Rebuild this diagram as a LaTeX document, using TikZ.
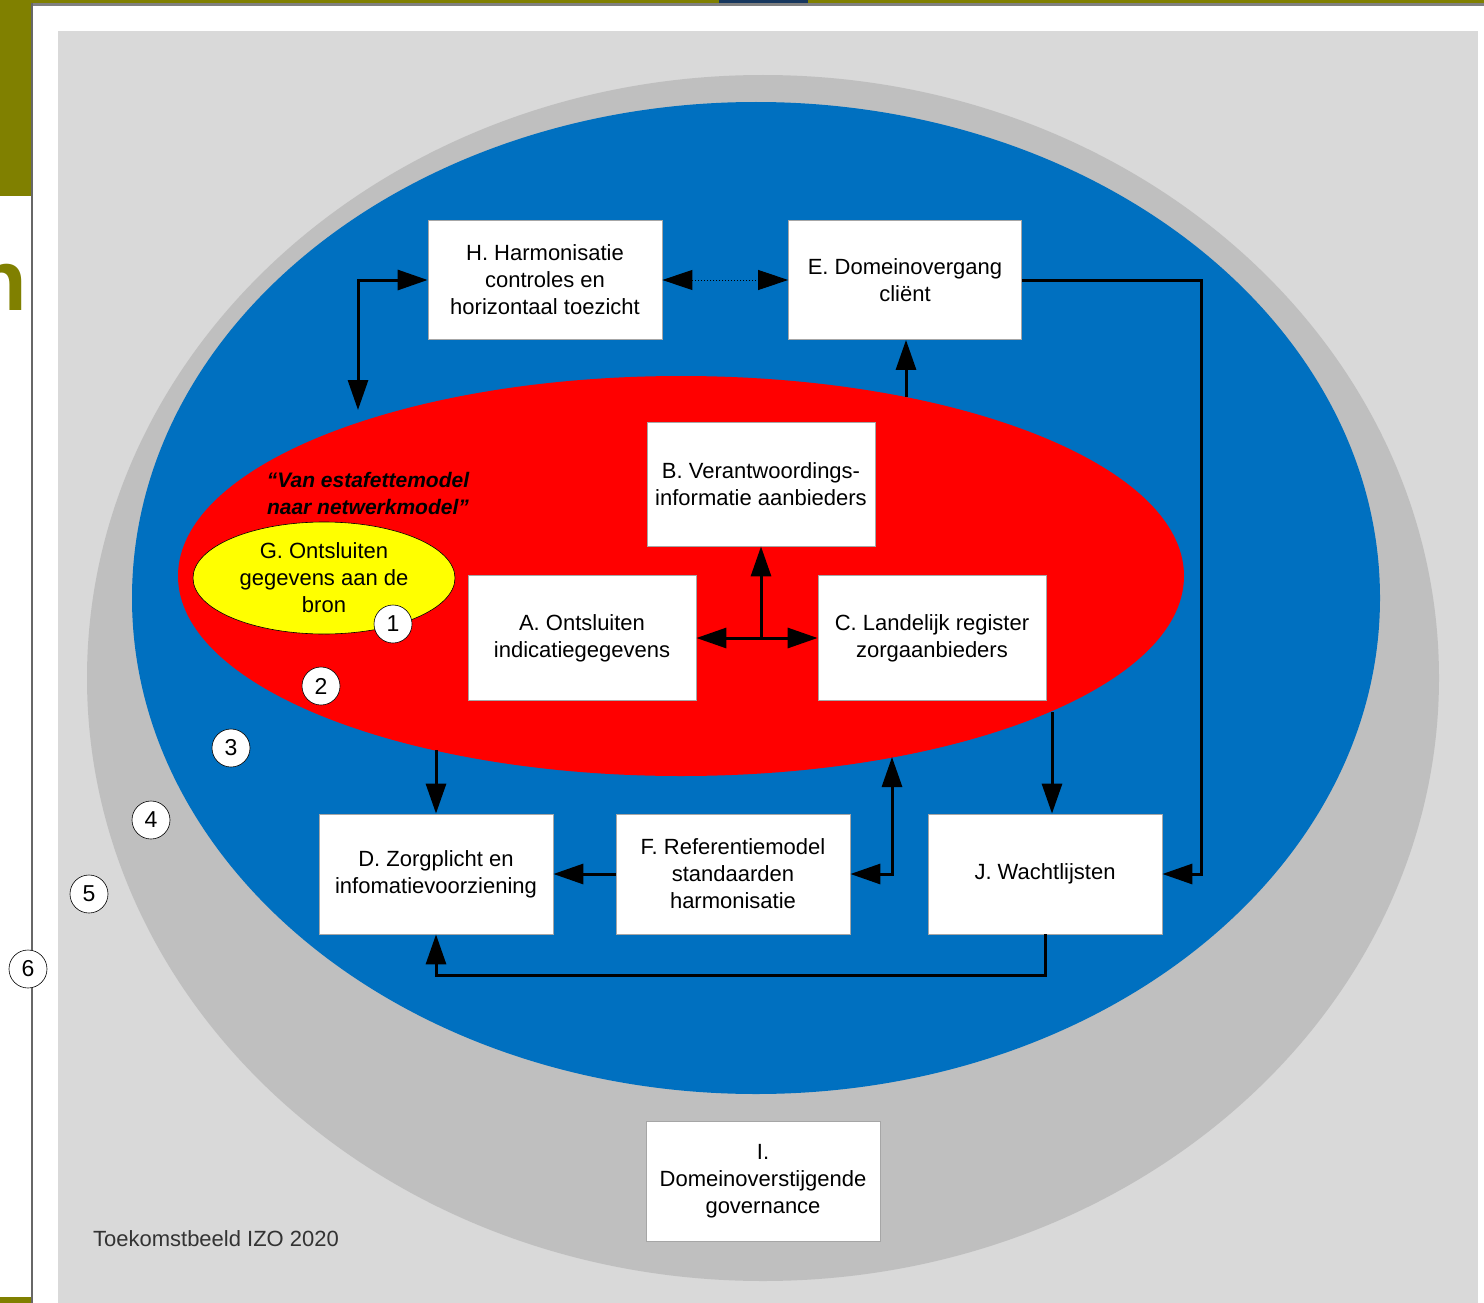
\documentclass[tikz,border=0pt]{standalone}
\usepackage{fontspec}
\setmainfont{Liberation Sans}
\usetikzlibrary{arrows.meta,shapes.geometric,positioning}
\definecolor{olijf}{RGB}{128,128,0}
\definecolor{nachtblauw}{RGB}{23,55,94}
\definecolor{randgrijs}{RGB}{128,128,128}
\definecolor{vlak}{RGB}{217,217,217}
\definecolor{ring}{RGB}{191,191,191}
\definecolor{domein}{RGB}{0,112,192}
\definecolor{kern}{RGB}{255,0,0}
\definecolor{bron}{RGB}{255,255,0}
\tikzset{
    block/.style={
        rectangle,
        draw=gray!70,
        line width=0.8pt,
        fill=white,
        minimum width=234pt,
        minimum height=120pt,
        inner sep=0pt,
        align=center,
        font=\fontsize{22}{27}\selectfont,
    },
    nummer/.style={
        circle,
        draw=black,
        line width=0.6pt,
        fill=white,
        minimum size=38pt,
        inner sep=0pt,
        font=\fontsize{23}{23}\selectfont,
    },
    link/.style={
        draw,
        line width=3pt,
        ->,
    },
    >={Triangle[length=30pt,width=20pt]},
}
\begin{document}
\begin{tikzpicture}[x=1pt,y=-1pt]
\useasboundingbox (0,0) rectangle (1484,1303);
% frame of the slide
\fill[white] (0,0) rectangle (1484,1303);
\fill[olijf] (0,0) rectangle (1484,3);
\fill[nachtblauw] (719,0) rectangle (808,3);
\fill[randgrijs] (31,3) rectangle (1484,6);
\fill[olijf] (0,0) rectangle (31,196);
\fill[olijf] (0,1297) rectangle (31,1303);
\fill[randgrijs!80!black] (31,3) rectangle (33,1303);
\node[anchor=base east, text=olijf, inner sep=0pt, font=\bfseries\fontsize{86}{86}\selectfont] (titel) at (27,310) {n};
\fill[vlak] (58,31) rectangle (1478,1303);
% rings
\fill[ring] (763,678) ellipse [x radius=676, y radius=603];
\fill[domein] (756,598) ellipse [x radius=624, y radius=496];
\fill[kern] (681,576) ellipse [x radius=503, y radius=200];
% blocks
\node[block, minimum width=234pt, minimum height=119pt] (H) at (545,280) {H. Harmonisatie\\controles en\\horizontaal toezicht};
\node[block, minimum width=233pt, minimum height=119pt] (E) at (905,280) {E. Domeinovergang\\cliënt};
\node[block, minimum width=228pt, minimum height=124pt] (B) at (761,484) {B. Verantwoordings-\\informatie aanbieders};
\node[block, minimum width=228pt, minimum height=125pt] (A) at (582,638) {A. Ontsluiten\\indicatiegegevens};
\node[block, minimum width=228pt, minimum height=125pt] (C) at (932,638) {C. Landelijk register\\zorgaanbieders};
\node[block] (D) at (436,874) {D. Zorgplicht en\\infomatievoorziening};
\node[block] (F) at (733,874) {F. Referentiemodel\\standaarden\\harmonisatie};
\node[block] (J) at (1045,874) {J. Wachtlijsten};
\node[block] (I) at (763,1181) {I.\\Domeinoverstijgende\\governance};
\node[ellipse, draw=black, line width=0.6pt, fill=bron, minimum width=262pt, minimum height=112pt, inner sep=0pt, align=center, font=\fontsize{22}{27}\selectfont] (G) at (324,578) {G. Ontsluiten\\gegevens aan de\\bron};
\node[align=center, font=\bfseries\itshape\fontsize{21}{27}\selectfont] (motto) at (368,493) {“Van estafettemodel\\naar netwerkmodel”};
% numbered rings
\node[nummer] (n1) at (393,624) {1};
\node[nummer] (n2) at (321,686) {2};
\node[nummer] (n3) at (231,748) {3};
\node[nummer] (n4) at (151,820) {4};
\node[nummer] (n5) at (89,894) {5};
\node[nummer] (n6) at (28,969) {6};
\node[text=black!80, font=\fontsize{22}{22}\selectfont] (bijschrift) at (216,1239) {Toekomstbeeld IZO 2020};
% connectors
\coordinate (hk) at (358,410);
\coordinate (ke) at (906,397);
\coordinate (ej) at (1201,280);
\coordinate (mid) at (761,638);
\coordinate (kd) at (436,750);
\coordinate (kf) at (892,757);
\coordinate (kj) at (1052,712);
\coordinate (jd) at (1045,975);
\draw[link,<->] (hk) |- (H.west);
\draw[link,<->, line width=1pt, dotted] (H.east) -- (E.west);
\draw[link] (ke) -- (ke |- E.south);
\draw[link] (E.east) -- (ej) |- (J.east);
\draw[link] (mid) -- (B.south);
\draw[link,<->] (A.east) -- (C.west);
\draw[link] (kd) -- (D.north);
\draw[link] (F.west) -- (D.east);
\draw[link,<->] (F.east) -| (kf);
\draw[link] (kj) -- (kj |- J.north);
\draw[link] (J.south) -- (jd) -| (D.south);
\end{tikzpicture}
\end{document}
